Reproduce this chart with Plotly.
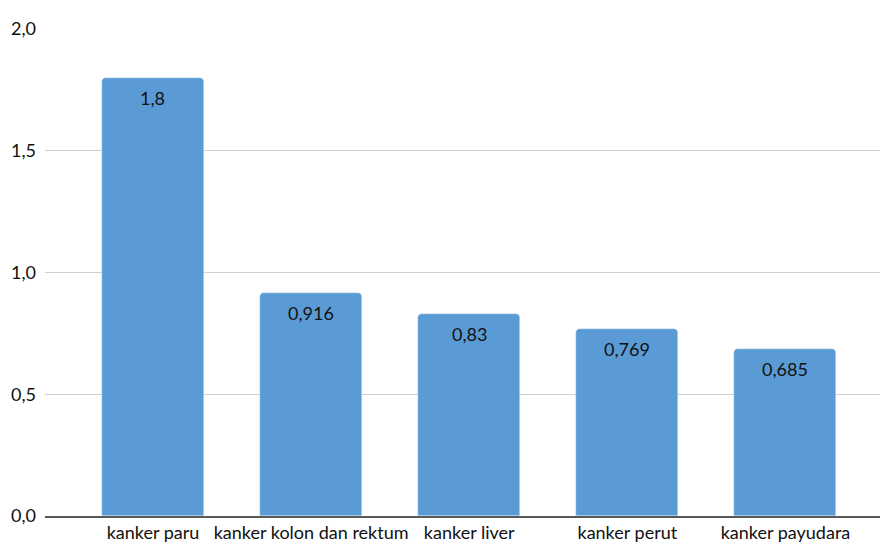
import plotly.graph_objects as go

categories = ["kanker paru", "kanker kolon dan rektum", "kanker liver", "kanker perut", "kanker payudara"]
values = [1.8, 0.916, 0.83, 0.769, 0.685]
value_labels = ["1,8", "0,916", "0,83", "0,769", "0,685"]

fig = go.Figure()
fig.add_trace(go.Bar(
    x=categories, y=values,
    marker=dict(color="#5B9BD5", cornerradius=4),
    width=0.645,
    hoverinfo="skip",
))
for c, v, t in zip(categories, values, value_labels):
    fig.add_annotation(x=c, y=v, text=t, showarrow=False, yshift=-20,
                       font=dict(family="Lato, sans-serif", size=18, color="#111111"))

fig.update_layout(
    width=880, height=543,
    margin=dict(l=45, r=0, t=29, b=27),
    plot_bgcolor="white", paper_bgcolor="white",
    separators=",.",
    showlegend=False,
    font=dict(family="Lato, sans-serif", size=18, color="#111111"),
    xaxis=dict(range=[-0.683, 4.598], showline=True, linecolor="#595959", linewidth=1.5,
               ticks="", tickfont=dict(size=18), showgrid=False, zeroline=False),
    yaxis=dict(range=[0, 2], dtick=0.5, tickformat=".1f", showgrid=True, gridcolor="#d0d0d0",
               gridwidth=1, zeroline=False, ticks="", ticklabelstandoff=8,
               tickfont=dict(size=18)),
    bargap=0,
)
fig.write_html("out.html")
